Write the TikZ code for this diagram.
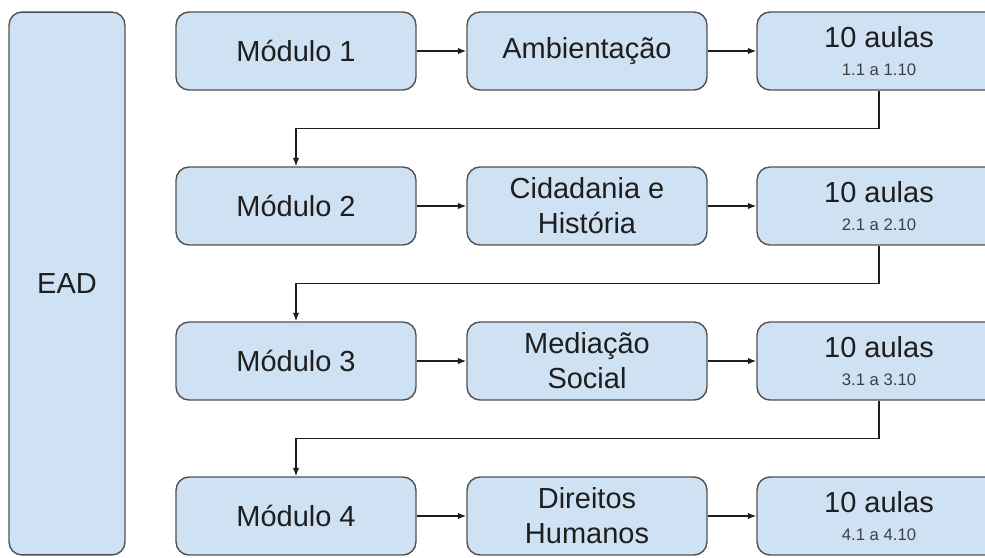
\documentclass[tikz,border=0pt]{standalone}
\usepackage{fontspec}
\setmainfont{Liberation Sans}
\usetikzlibrary{calc,arrows.meta}

\definecolor{boxfill}{HTML}{CFE2F3}
\definecolor{boxline}{HTML}{505050}
\definecolor{txt}{HTML}{1E1E1E}

\tikzset{
  box/.style={draw=boxline, fill=boxfill, rounded corners=0.26cm, line width=0.8pt,
    minimum width=4.8cm, minimum height=1.56cm, align=center, text=txt,
    font=\fontsize{16.5}{20}\selectfont, inner sep=0pt},
  arr/.style={draw=txt, line width=0.75pt, -{Latex[length=1.7mm,width=1.3mm]}}
}
\newcommand{\aulas}[1]{10 aulas\\[-4.5pt]{\fontsize{9.5}{10}\selectfont\color{black!75}#1}}

\begin{document}
\begin{tikzpicture}[x=0.02cm,y=-0.02cm]
    % quadro (frame)
    \clip (0,0) rectangle (985,558);
    \fill[white] (0,0) rectangle (985,558);

    % coluna EAD
    \node[box, minimum width=2.32cm, minimum height=10.86cm] (ead) at (67,283.5) {EAD};

    % modulos
    \node[box] (m1) at (296,51) {Módulo 1};
    \node[box] (m2) at (296,206) {Módulo 2};
    \node[box] (m3) at (296,361) {Módulo 3};
    \node[box] (m4) at (296,516) {Módulo 4};

    % temas
    \node[box] (t1) at (587,51) {Ambientação};
    \node[box] (t2) at (587,206) {Cidadania e\\História};
    \node[box] (t3) at (587,361) {Mediação\\Social};
    \node[box] (t4) at (587,516) {Direitos\\Humanos};

    % aulas (cortadas na borda direita)
    \node[box, minimum width=4.88cm] (a1) at (879,51) {\aulas{1.1 a 1.10}};
    \node[box, minimum width=4.88cm] (a2) at (879,206) {\aulas{2.1 a 2.10}};
    \node[box, minimum width=4.88cm] (a3) at (879,361) {\aulas{3.1 a 3.10}};
    \node[box, minimum width=4.88cm] (a4) at (879,516) {\aulas{4.1 a 4.10}};

    % setas horizontais
    \foreach \i in {1,...,4} {
      \draw[arr] (m\i) -- (t\i);
      \draw[arr] (t\i) -- (a\i);
    }

    % setas de retorno
    \draw[arr] (a1.south) |- ($(a1.south)!.5!(m2.north)$) -| (m2.north);
    \draw[arr] (a2.south) |- ($(a2.south)!.5!(m3.north)$) -| (m3.north);
    \draw[arr] (a3.south) |- ($(a3.south)!.5!(m4.north)$) -| (m4.north);

\end{tikzpicture}
\end{document}
